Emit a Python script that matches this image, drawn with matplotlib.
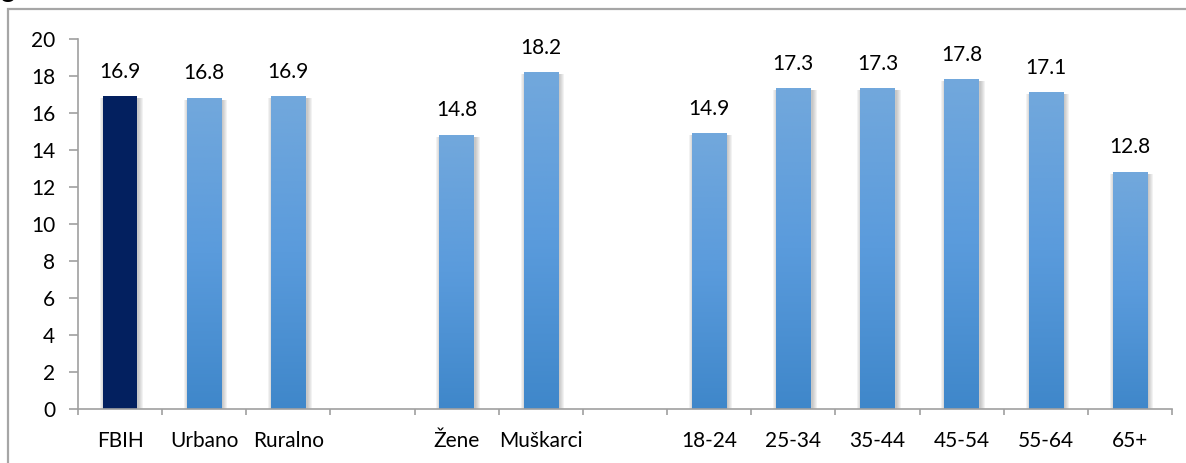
import matplotlib
matplotlib.use('Agg')
import matplotlib.pyplot as plt
import numpy as np
from matplotlib.colors import LinearSegmentedColormap
from matplotlib.patches import Rectangle

categories = ['FBIH', 'Urbano', 'Ruralno', '', 'Žene', 'Muškarci', '',
              '18-24', '25-34', '35-44', '45-54', '55-64', '65+']
values = [16.9, 16.8, 16.9, np.nan, 14.8, 18.2, np.nan,
          14.9, 17.3, 17.3, 17.8, 17.1, 12.8]
highlight = 'FBIH'

plt.rcParams['font.family'] = ['Lato', 'DejaVu Sans']

fig = plt.figure(figsize=(11.86, 4.63), dpi=100)
ax = fig.add_axes([78/1186, 54/463, 1094/1186, 370/463])

grad = LinearSegmentedColormap.from_list('g', ['#3f87ca', '#5a9bdc', '#72a8dc'])
navy = '#03205f'
w = 0.41
px = 1/84.2  # one pixel in x data units

x = np.arange(len(categories))
for i, (c, v) in enumerate(zip(categories, values)):
  if np.isnan(v):
    continue
  # soft shadow, a bit heavier on the right
  for k in range(1, 6):
    ax.add_patch(Rectangle((i - w/2 + 2*px - k*px, 0), w + 2*k*px - px, v - 0.08,
                           color='#707070', alpha=0.09, lw=0, zorder=1))
  if c == highlight:
    ax.add_patch(Rectangle((i - w/2, 0), w, v, color=navy, lw=0, zorder=2))
  else:
    g = np.linspace(0, 1, 256).reshape(-1, 1)
    ax.imshow(g, extent=[i - w/2, i + w/2, 0, v], origin='lower', aspect='auto',
              cmap=grad, zorder=2, interpolation='bilinear')
  ax.annotate('%.1f' % v, (i, v), xytext=(0, 13.5), textcoords='offset points',
              ha='center', va='baseline', fontsize=15, color='black')

ax.set_xlim(-0.5, len(categories) - 0.5)
ax.set_ylim(0, 20)
ax.set_yticks(np.arange(0, 21, 2))
ax.set_xticks(np.arange(-0.5, len(categories), 1))
ax.set_xticklabels([])
ax.set_xticks(x, minor=True)
ax.set_xticklabels(categories, minor=True)

for s in ['top', 'right']:
  ax.spines[s].set_visible(False)
for s in ['left', 'bottom']:
  ax.spines[s].set_color('#a0a0a0')
  ax.spines[s].set_linewidth(1.2)

ax.tick_params(axis='y', length=6.5, width=1.2, color='#a0a0a0', pad=10, labelsize=15)
ax.tick_params(axis='x', which='major', length=4.5, width=1.2, color='#a0a0a0')
ax.tick_params(axis='x', which='minor', length=0, pad=16, labelsize=15)

# outer chart border (clipped by the image at right and bottom)
fig.patches.append(Rectangle((8/1186, -0.2), 1.2, 1 - 9/463 + 0.2, transform=fig.transFigure,
                             fill=False, edgecolor='#a6a6a6', lw=1.6))
# tail of a caption line that sits above the cropped chart
fig.text(0.0, 1 + 2.5/463, 'g', fontsize=20, va='baseline', ha='left')

plt.savefig('out.png')
plt.close()
